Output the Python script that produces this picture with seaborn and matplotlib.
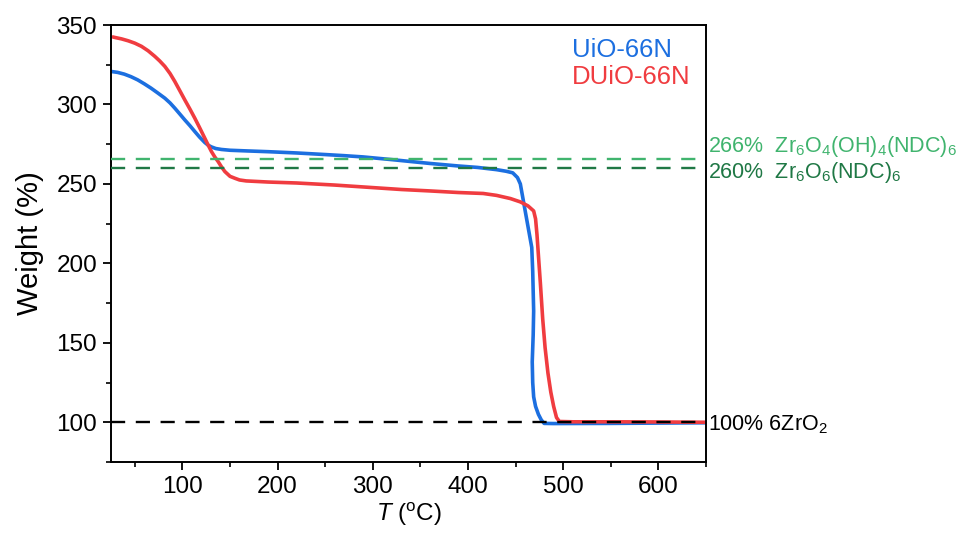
import numpy as np
import pandas as pd
import matplotlib
matplotlib.use("Agg")
import matplotlib.pyplot as plt
import matplotlib.transforms as mtransforms
import seaborn as sns

# ---------------- data ----------------
uio_T = [25, 32, 39, 46, 53, 60, 67, 74, 81.5, 87, 92, 97, 102.5, 108, 113, 118, 123.5,
         127, 130.5, 135, 141, 150, 167, 190, 220, 250, 270, 290, 320, 360, 390, 410,
         430, 440, 447, 452, 455, 458, 461, 464, 467, 468, 469, 468.5, 467.5, 468, 469,
         471, 474, 477, 480, 490, 550, 600, 650]
uio_W = [320.8, 320.2, 319.1, 317.5, 315.5, 313, 310.3, 307.3, 304, 301, 297.7, 294.2,
         290.3, 286.6, 283, 279.5, 276.1, 274.4, 273.3, 272.3, 271.7, 271.2, 270.8, 270.3,
         269.5, 268.5, 267.8, 267, 265.3, 262.9, 261.3, 260.4, 259, 258, 257, 254, 250,
         240, 230, 220, 210, 195, 170, 155, 138, 125, 116, 110, 105, 101.5, 99.3, 99.2,
         99.3, 99.5, 99.7]

duio_T = [27, 29, 36, 43, 50, 57, 64, 71, 76, 81.5, 87, 92, 97, 102.5, 108, 113, 118,
          123.5, 127, 130.5, 134, 137.5, 141, 144.6, 150, 155, 160, 167, 190, 220, 260,
          290, 330, 360, 390, 416, 430, 444.6, 455, 463, 469, 471, 472.5, 474, 476, 478.5,
          481, 484, 487, 490, 493, 496, 510, 550, 600, 650]
duio_W = [342.5, 342.2, 341.3, 340.1, 338.6, 336.6, 333.8, 330.3, 327.5, 324, 319.5,
          314.5, 309, 302.9, 297, 291.4, 285.5, 278.8, 274.5, 270.4, 267, 264.1, 260.8,
          257.8, 254.8, 253.6, 252.5, 251.9, 251.2, 250.6, 249.3, 248.1, 246.5, 245.6,
          244.6, 244, 242.8, 240.8, 238.7, 236.2, 233, 228, 218, 205, 188, 165, 147, 131,
          119, 110, 103, 100.5, 100.3, 100.3, 100.2, 100]

series_names = ["UiO-66N", "DUiO-66N"]
series_colors = ["#1c6fe0", "#f03c40"]

ref_values = [266, 260, 100]
ref_labels = ["266%  Zr$_6$O$_4$(OH)$_4$(NDC)$_6$",
              "260%  Zr$_6$O$_6$(NDC)$_6$",
              "100% 6ZrO$_2$"]
ref_colors = ["#40b46e", "#1f7845", "#000000"]

x_ticks = [100, 200, 300, 400, 500, 600]
y_ticks = [100, 150, 200, 250, 300, 350]

# ---------------- style ----------------
sns.set_style("ticks")
plt.rcParams["font.family"] = ["Liberation Sans", "DejaVu Sans"]
plt.rcParams["mathtext.fontset"] = "custom"
plt.rcParams["mathtext.rm"] = "Liberation Sans"
plt.rcParams["mathtext.it"] = "Liberation Sans:italic"
plt.rcParams["mathtext.bf"] = "Liberation Sans:bold"

df = pd.concat([
    pd.DataFrame({"T": uio_T, "W": uio_W, "sample": series_names[0]}),
    pd.DataFrame({"T": duio_T, "W": duio_W, "sample": series_names[1]}),
], ignore_index=True)

fig = plt.figure(figsize=(9.79, 5.33), dpi=100)
ax = fig.add_axes([0.1134, 0.1332, 0.6077, 0.8198])

sns.lineplot(data=df, x="T", y="W", hue="sample", hue_order=series_names,
             palette=series_colors, sort=False, estimator=None, lw=2.6, ax=ax)

trans = mtransforms.blended_transform_factory(ax.transAxes, ax.transData)
text_y = [273.8, 257.4, 98.6]
for v, lab, c, ty in zip(ref_values, ref_labels, ref_colors, text_y):
    ax.axhline(v, color=c, lw=1.7, dashes=(6, 4.5), zorder=3)
    ax.text(1.004, ty, lab, color=c, transform=trans, fontsize=15.5,
            ha="left", va="center", clip_on=False)

ax.set_xlim(25, 650)
ax.set_ylim(75, 350)
ax.set_xticks(x_ticks)
ax.set_yticks(y_ticks)
ax.set_xticks([50, 150, 250, 350, 450, 550, 650], minor=True)
ax.set_yticks([75, 125, 175, 225, 275, 325], minor=True)
ax.tick_params(axis="both", which="major", direction="out", length=6, width=1.3,
               labelsize=17.5, colors="black", pad=4)
ax.tick_params(axis="both", which="minor", direction="out", length=3.5, width=1.2,
               colors="black")
for s in ax.spines.values():
    s.set_visible(True)
    s.set_linewidth(1.4)
    s.set_color("black")

ax.set_xlabel("$\\it{T}$ ($^{\\mathrm{o}}$C)", fontsize=17.5, labelpad=2, color="black")
ax.set_ylabel("Weight (%)", fontsize=21, labelpad=9, color="black")

leg = ax.legend(loc="upper left", bbox_to_anchor=(0.758, 0.995), frameon=False,
                handlelength=0, handletextpad=0, labelcolor="linecolor",
                fontsize=18.5, borderaxespad=0, labelspacing=0.15)
for h in leg.legend_handles:
    h.set_visible(False)

fig.savefig("out.png", dpi=100)
